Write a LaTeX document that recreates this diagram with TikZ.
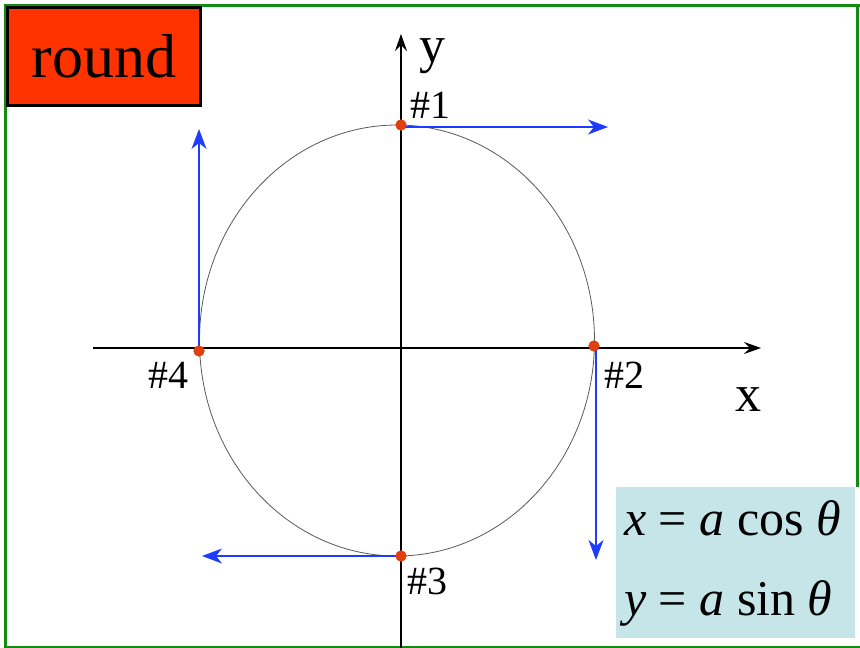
\documentclass[tikz,border=0pt]{standalone}
\usepackage{fontspec}
\setmainfont{Liberation Serif}
\usetikzlibrary{arrows.meta}
\definecolor{frameg}{HTML}{108C10}
\definecolor{roundred}{HTML}{FF3300}
\definecolor{dotc}{HTML}{E04010}
\definecolor{arrblue}{HTML}{1E3CFF}
\definecolor{eqbg}{HTML}{C5E5E8}
\tikzset{
  axisline/.style={black, line width=1.1pt, -{Stealth[length=17pt,width=12pt,inset=6pt]}},
  velarrow/.style={arrblue, line width=1.5pt, -{Stealth[length=20pt,width=15pt,inset=6pt]}},
  ptdot/.style={circle, fill=dotc, inner sep=0pt, minimum size=11pt},
  lbl/.style={font=\fontsize{40}{44}\selectfont, inner sep=0pt},
  axlbl/.style={font=\fontsize{52}{56}\selectfont, inner sep=0pt},
  eqtext/.style={anchor=base west, inner sep=0pt, font=\fontsize{50}{54}\selectfont},
}
\begin{document}
\begin{tikzpicture}[x=1pt,y=-1pt]
\useasboundingbox (0,0) rectangle (860,648);
% frame
\draw[frameg, line width=3.5pt] (5.5,648) -- (5.5,5.5) -- (860,5.5);
\draw[frameg, line width=2.5pt] (5.5,647) -- (860,647);
\draw[frameg, line width=3pt] (857,5.5) -- (857,487);
% circle
\draw[black!65, line width=0.8pt] (397,340.5) ellipse [x radius=197.5, y radius=215.5];
% axes
\coordinate (xs) at (93,348);
\coordinate (xe) at (761,348);
\coordinate (ys) at (401,648);
\coordinate (ye) at (401,34);
\draw[axisline] (xs) -- (xe);
\draw[axisline] (ys) -- (ye);
% points
\node[ptdot] (p1) at (401,125) {};
\node[ptdot] (p2) at (594,346) {};
\node[ptdot] (p3) at (401,556) {};
\node[ptdot] (p4) at (199,351) {};
\coordinate (e1) at (608,127);
\coordinate (e2) at (596,560);
\coordinate (e3) at (202,556);
\coordinate (e4) at (199,129);
\draw[velarrow] (p1.center) ++(0,2) -- (e1);
\draw[velarrow] (p2.center) ++(2,0) -- (e2);
\draw[velarrow] (p3.center) -- (e3);
\draw[velarrow] (p4.center) -- (e4);
\node[ptdot] at (p1) {};
\node[ptdot] at (p2) {};
\node[ptdot] at (p3) {};
\node[ptdot] at (p4) {};
% labels
\node[lbl, anchor=base west] (l1) at (410,118) {\#1};
\node[lbl, anchor=base west] (l2) at (604,388) {\#2};
\node[lbl, anchor=base west] (l3) at (407,594) {\#3};
\node[lbl, anchor=base west] (l4) at (148,388) {\#4};
\node[axlbl, anchor=base west] (ly) at (419,62) {y};
\node[axlbl, anchor=base west] (lx) at (735,411) {x};
% round box
\node[draw=black, line width=3pt, fill=roundred, minimum width=193pt, minimum height=98pt, inner sep=0pt,
      font=\fontsize{62}{66}\selectfont] (rb) at (104,56) {round};
% equations
\fill[eqbg] (616,487) rectangle (855,638);
\node[eqtext] (eq1) at (624,535) {\textit{x} = \textit{a} cos \textit{θ}};
\node[eqtext] (eq2) at (624,615) {\textit{y} = \textit{a} sin \textit{θ}};
\end{tikzpicture}
\end{document}
